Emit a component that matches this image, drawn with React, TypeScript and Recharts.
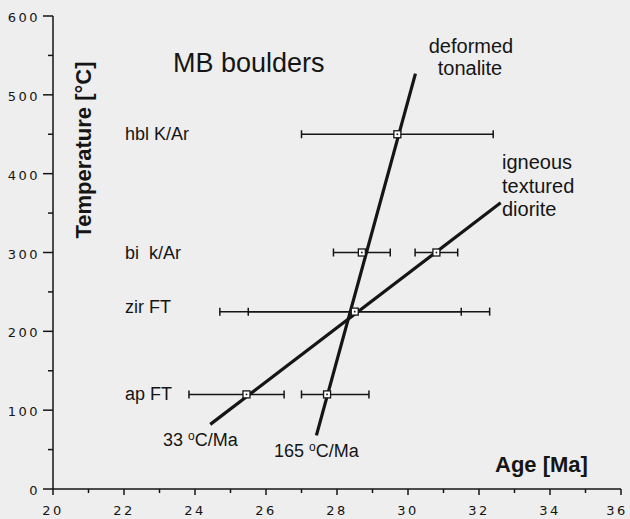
import { ComposedChart, ErrorBar, Scatter, XAxis, YAxis } from 'recharts';

// axis ticks
const xTicks = [20, 21, 22, 23, 24, 25, 26, 27, 28, 29, 30, 31, 32, 33, 34, 35, 36];
const yTicks = [0, 50, 100, 150, 200, 250, 300, 350, 400, 450, 500, 550, 600];

// thermochronometer ages (Ma) with x error [minus, plus]
const hblKAr = [{ age: 29.7, temp: 450, err: [2.7, 2.7] }];
const biKAr = [
  { age: 28.7, temp: 300, err: [0.8, 0.8] },
  { age: 30.8, temp: 300, err: [0.6, 0.6] },
];
const zirFT = [{ age: 28.5, temp: 225, errInner: [3.0, 3.0], errOuter: [3.8, 3.8] }];
const apFT = [
  { age: 25.45, temp: 120, err: [1.62, 1.06] },
  { age: 27.72, temp: 120, err: [0.72, 1.18] },
];

// cooling paths
const tonalite = [
  { age: 27.42, temp: 68 },
  { age: 30.21, temp: 527 },
];
const diorite = [
  { age: 24.43, temp: 82 },
  { age: 32.61, temp: 363 },
];

const INK = '#151515';
const FONT = '"Liberation Sans", Arial, sans-serif';
const TICK_FONT = '"DejaVu Sans", sans-serif';

function YTick(props: any) {
  const { x, y, payload } = props;
  const major = payload.value % 100 === 0;
  return (
    <g>
      <line x1={x - (major ? 10 : 5)} x2={x} y1={y} y2={y} stroke={INK} strokeWidth={1.5} />
      {major && (
        <text x={x - 13} y={y + 6} textAnchor="end" fill={INK} fontFamily={TICK_FONT} fontSize={13} letterSpacing={2.5}>
          {payload.value}
        </text>
      )}
    </g>
  );
}

function XTick(props: any) {
  const { x, y, payload } = props;
  const major = payload.value % 2 === 0;
  // keep the last label inside the page, as the original does
  const tx = Math.min(x, 617);
  return (
    <g>
      <line x1={x} x2={x} y1={y} y2={y + (major ? 6 : 4)} stroke={INK} strokeWidth={1.5} />
      {major && (
        <text x={tx} y={y + 26} textAnchor="middle" fill={INK} fontFamily={TICK_FONT} fontSize={13} letterSpacing={2.5}>
          {payload.value}
        </text>
      )}
    </g>
  );
}

function Marker(props: any) {
  const { cx, cy } = props;
  return (
    <g>
      <rect x={cx - 3.5} y={cy - 3.5} width={7} height={7} fill="#fff" stroke={INK} strokeWidth={1.3} />
      <rect x={cx - 0.8} y={cy - 0.8} width={1.6} height={1.6} fill={INK} />
    </g>
  );
}

const NoShape = () => <g />;

function Labels() {
  const t = { fill: INK, fontFamily: FONT };
  return (
    <svg width={630} height={519} style={{ position: 'absolute', left: 0, top: 0, pointerEvents: 'none' }}>
      <text {...t} x={173} y={72} fontSize={27}>MB boulders</text>
      <text {...t} x={125} y={140} fontSize={18}>hbl K/Ar</text>
      <text {...t} x={125} y={259} fontSize={18}>bi{'\u00a0 '}k/Ar</text>
      <text {...t} x={125} y={313} fontSize={18}>zir FT</text>
      <text {...t} x={125} y={400} fontSize={18}>ap FT</text>
      <text {...t} x={163} y={446} fontSize={18}>
        33 <tspan fontSize={12} dy={-6}>o</tspan><tspan dy={6}>C/Ma</tspan>
      </text>
      <text {...t} x={274} y={457} fontSize={18}>
        165 <tspan fontSize={12} dy={-6}>o</tspan><tspan dy={6}>C/Ma</tspan>
      </text>
      <text {...t} x={471} y={53} fontSize={20} textAnchor="middle">deformed</text>
      <text {...t} x={470} y={75} fontSize={20} textAnchor="middle">tonalite</text>
      <text {...t} x={502} y={169} fontSize={20}>igneous</text>
      <text {...t} x={502} y={193} fontSize={20}>textured</text>
      <text {...t} x={502} y={216} fontSize={20}>diorite</text>
      <text {...t} x={495} y={472} fontSize={22} fontWeight="bold">Age [Ma]</text>
      <text {...t} x={91} y={150} fontSize={22} fontWeight="bold" textAnchor="middle" transform="rotate(-90 91 150)">
        Temperature [°C]
      </text>
    </svg>
  );
}

export default function App() {
  return (
    <div style={{ position: 'fixed', left: 0, top: 0, width: 630, height: 519, background: '#eeeeee' }}>
      <ComposedChart width={630} height={519} margin={{ top: 16, right: 9, bottom: 0, left: 0 }}>
        <XAxis
          xAxisId="b"
          type="number"
          dataKey="age"
          domain={[20, 36]}
          ticks={xTicks}
          interval={0}
          height={30}
          tickSize={0}
          tickMargin={0}
          tick={<XTick />}
          axisLine={{ stroke: INK, strokeWidth: 1.5 }}
          allowDataOverflow
        />
        <XAxis
          xAxisId="t"
          orientation="top"
          type="number"
          domain={[20, 36]}
          height={0}
          tick={false}
          axisLine={{ stroke: INK, strokeWidth: 1.5 }}
        />
        <YAxis
          yAxisId="l"
          type="number"
          dataKey="temp"
          domain={[0, 600]}
          ticks={yTicks}
          interval={0}
          width={53}
          tickSize={0}
          tickMargin={0}
          tick={<YTick />}
          axisLine={{ stroke: INK, strokeWidth: 1.5 }}
          allowDataOverflow
        />
        <YAxis
          yAxisId="r"
          orientation="right"
          type="number"
          domain={[0, 600]}
          width={0}
          tick={false}
          axisLine={{ stroke: INK, strokeWidth: 1.5 }}
        />

        <Scatter
          xAxisId="b"
          yAxisId="l"
          data={tonalite}
          line={{ stroke: INK, strokeWidth: 3.2 }}
          shape={NoShape}
          isAnimationActive={false}
        />
        <Scatter
          xAxisId="b"
          yAxisId="l"
          data={diorite}
          line={{ stroke: INK, strokeWidth: 3.2 }}
          shape={NoShape}
          isAnimationActive={false}
        />

        <Scatter xAxisId="b" yAxisId="l" data={hblKAr} shape={Marker} isAnimationActive={false}>
          <ErrorBar dataKey="err" direction="x" width={4} stroke={INK} strokeWidth={1.5} isAnimationActive={false} />
        </Scatter>
        <Scatter xAxisId="b" yAxisId="l" data={biKAr} shape={Marker} isAnimationActive={false}>
          <ErrorBar dataKey="err" direction="x" width={4} stroke={INK} strokeWidth={1.5} isAnimationActive={false} />
        </Scatter>
        <Scatter xAxisId="b" yAxisId="l" data={zirFT} shape={Marker} isAnimationActive={false}>
          <ErrorBar dataKey="errOuter" direction="x" width={4} stroke={INK} strokeWidth={1.5} isAnimationActive={false} />
          <ErrorBar dataKey="errInner" direction="x" width={4} stroke={INK} strokeWidth={1.5} isAnimationActive={false} />
        </Scatter>
        <Scatter xAxisId="b" yAxisId="l" data={apFT} shape={Marker} isAnimationActive={false}>
          <ErrorBar dataKey="err" direction="x" width={4} stroke={INK} strokeWidth={1.5} isAnimationActive={false} />
        </Scatter>
      </ComposedChart>
      <Labels />
    </div>
  );
}
